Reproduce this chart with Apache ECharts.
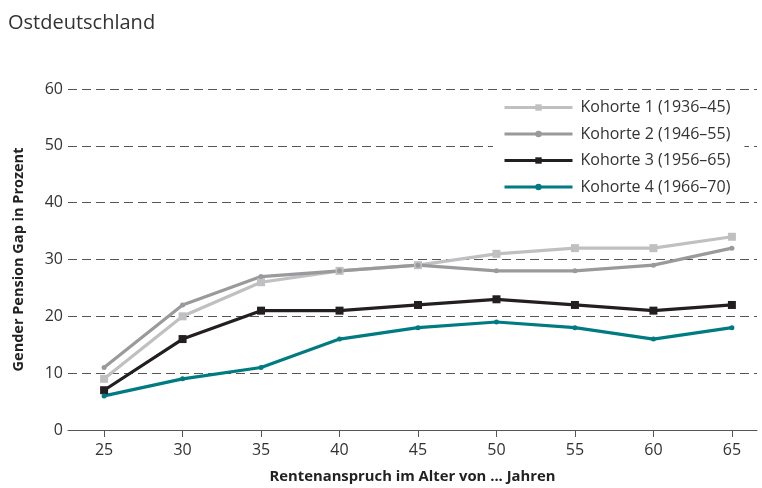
<!DOCTYPE html>
<html lang="de">
<head>
<meta charset="utf-8">
<title>Ostdeutschland</title>
<script src="https://cdn.jsdelivr.net/npm/echarts@6/dist/echarts.min.js"></script>
<style>
  html, body { margin: 0; padding: 0; background: #fff; }
  #main { width: 762px; height: 488px; }
</style>
</head>
<body>
<div id="main"></div>
<script>
// Alter (Rentenanspruch im Alter von ... Jahren)
var ages = [25, 30, 35, 40, 45, 50, 55, 60, 65];
// Gender Pension Gap in Prozent je Kohorte
var kohorte1 = [9, 20, 26, 28, 29, 31, 32, 32, 34];
var kohorte2 = [11, 22, 27, 28, 29, 28, 28, 29, 32];
var kohorte3 = [7, 16, 21, 21, 22, 23, 22, 21, 22];
var kohorte4 = [6, 9, 11, 16, 18, 19, 18, 16, 18];
var names = ['Kohorte 1 (1936–45)', 'Kohorte 2 (1946–55)', 'Kohorte 3 (1956–65)', 'Kohorte 4 (1966–70)'];
var colors = ['#c0c0c2', '#999a9c', '#231f20', '#007b82'];

function pairs(vals) {
  return ages.map(function (a, i) { return [a, vals[i]]; });
}

var font = '"Open Sans", "Noto Sans", sans-serif';
var myChart = echarts.init(document.getElementById('main'));

var option = {
  animation: false,
  textStyle: { fontFamily: font },
  title: {
    text: 'Ostdeutschland',
    left: 3, top: 8,
    textStyle: { fontFamily: font, fontSize: 20, fontWeight: 'normal', color: '#333' }
  },
  grid: { left: 68, right: 5, top: 89, bottom: 58, outerBoundsMode: 'none', containLabel: false },
  legend: {
    orient: 'vertical',
    left: 493, top: 94,
    width: 254,
    padding: [5, 14, 4, 10],
    backgroundColor: '#fff',
    itemWidth: 68, itemHeight: 8,
    itemGap: 9.5,
    lineStyle: { width: 3 },
    textStyle: { fontFamily: font, fontSize: 16, color: '#333', lineHeight: 17, padding: [0, 0, 0, 3] },
    data: names
  },
  xAxis: {
    type: 'value',
    min: 22.7, max: 66.6,
    name: 'Rentenanspruch im Alter von ... Jahren',
    nameLocation: 'middle', nameGap: 39,
    nameTextStyle: { fontFamily: font, fontSize: 14.8, fontWeight: 'bold', color: '#222' },
    axisLine: { show: true, lineStyle: { color: '#555', width: 1 } },
    axisTick: { show: true, length: 7, customValues: ages, lineStyle: { color: '#555' } },
    axisLabel: { customValues: ages, margin: 12, fontSize: 16, color: '#333', fontFamily: font },
    splitLine: { show: false }
  },
  yAxis: {
    type: 'value',
    min: 0, max: 60, interval: 10,
    name: 'Gender Pension Gap in Prozent',
    nameLocation: 'middle', nameGap: 42,
    nameTextStyle: { fontFamily: font, fontSize: 14.5, fontWeight: 'bold', color: '#222' },
    axisLine: { show: false },
    axisTick: { show: false },
    axisLabel: { margin: 5, fontSize: 16, color: '#333', fontFamily: font },
    splitLine: { show: true, lineStyle: { color: '#555', type: [9, 5], width: 1 } }
  },
  series: [
    {
      name: names[0], type: 'line', data: pairs(kohorte1),
      symbol: 'rect', symbolSize: 8,
      lineStyle: { color: colors[0], width: 3.2 },
      itemStyle: { color: colors[0] }
    },
    {
      name: names[1], type: 'line', data: pairs(kohorte2),
      symbol: 'circle', symbolSize: 5,
      lineStyle: { color: colors[1], width: 3.2 },
      itemStyle: { color: colors[1] }
    },
    {
      name: names[2], type: 'line', data: pairs(kohorte3),
      symbol: 'rect', symbolSize: 8,
      lineStyle: { color: colors[2], width: 3.2 },
      itemStyle: { color: colors[2] }
    },
    {
      name: names[3], type: 'line', data: pairs(kohorte4),
      symbol: 'circle', symbolSize: 5,
      lineStyle: { color: colors[3], width: 3.2 },
      itemStyle: { color: colors[3] }
    }
  ]
};

myChart.setOption(option);
</script>
</body>
</html>
